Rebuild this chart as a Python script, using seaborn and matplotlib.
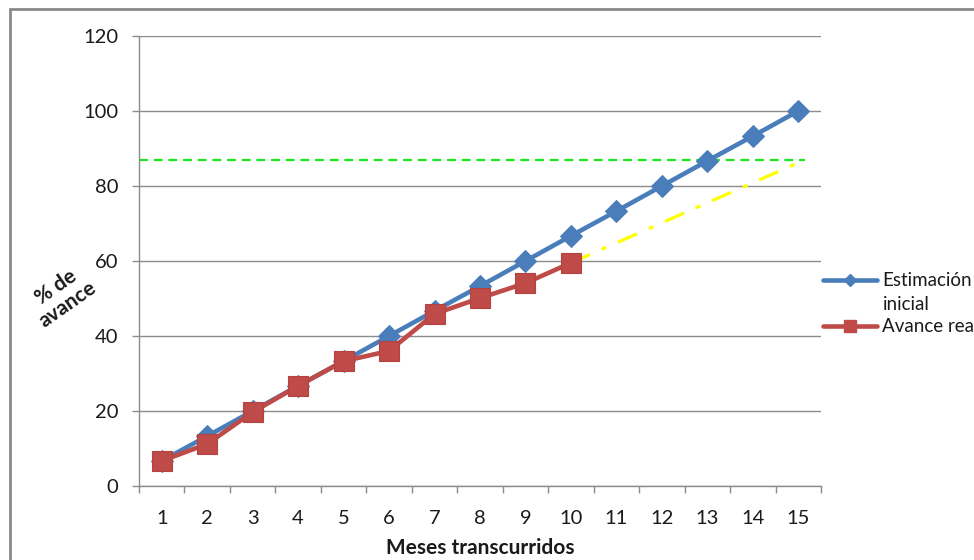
import matplotlib
matplotlib.use("Agg")
import matplotlib.pyplot as plt
from matplotlib.lines import Line2D
from matplotlib.ticker import FixedLocator, NullFormatter
import seaborn as sns
import pandas as pd

# Monthly progress data (% complete)
meses = list(range(1, 16))
estimacion_inicial = [6.7, 13.3, 20.0, 26.7, 33.3, 40.0, 46.7, 53.3, 60.0, 66.7,
                      73.3, 80.0, 86.7, 93.3, 100.0]
meses_real = list(range(1, 11))
avance_real = [6.7, 11.2, 19.7, 26.7, 33.3, 36.0, 45.9, 50.1, 54.1, 59.5]

# Target level and projected trend of the actual progress
nivel_objetivo = 87
proyeccion_x = [10, 15.15]
proyeccion_y = [59.5, 87]

y_ticks = [0, 20, 40, 60, 80, 100, 120]

sns.set_style("white")
plt.rcParams["font.family"] = ["Lato", "DejaVu Sans"]

BLUE = "#4A7EBB"
RED = "#BE4B48"
GRID = "#8C8C8C"
TEXT = "#1A1A1A"

fig = plt.figure(figsize=(9.74, 5.6), dpi=100)
ax = fig.add_axes([139 / 974, 1 - 486 / 560, (821 - 139) / 974, (486 - 36) / 560])

df_est = pd.DataFrame({"mes": meses, "avance": estimacion_inicial})
df_real = pd.DataFrame({"mes": meses_real, "avance": avance_real})

# target and projection lines
ax.plot([0.5, 15.15], [nivel_objetivo, nivel_objetivo], color="#1EE61E",
        lw=1.6, dashes=(4, 2.6), zorder=2)
ax.plot(proyeccion_x, proyeccion_y, color="#FFFF00", lw=2.3,
        dashes=(6.5, 4, 1.6, 4), zorder=2)

sns.lineplot(data=df_est, x="mes", y="avance", ax=ax, color=BLUE, lw=3.3,
             marker="D", markersize=11, markeredgecolor=BLUE,
             markerfacecolor=BLUE, zorder=3)
sns.lineplot(data=df_real, x="mes", y="avance", ax=ax, color=RED, lw=3.3,
             marker="s", markersize=15, markeredgecolor="#B5423F",
             markerfacecolor=RED, markeredgewidth=0.8, zorder=4)

ax.set_xlim(0.5, 15.5)
ax.set_ylim(0, 120)

# category boundaries carry the tick marks, labels sit at category centres
ax.xaxis.set_major_locator(FixedLocator([i + 0.5 for i in range(0, 16)]))
ax.xaxis.set_major_formatter(NullFormatter())
ax.set_xticks(meses, minor=True)
ax.set_xticklabels([str(m) for m in meses], minor=True)
ax.tick_params(axis="x", which="major", direction="out", length=5,
               color=GRID, width=1, bottom=True)
ax.tick_params(axis="x", which="minor", length=0, pad=17.5, labelsize=14.5,
               labelcolor=TEXT)

ax.set_yticks(y_ticks)
ax.set_yticklabels([str(v) for v in y_ticks])
ax.tick_params(axis="y", direction="out", length=5, color=GRID, width=1,
               pad=10, labelsize=14.5, labelcolor=TEXT, left=True)

ax.yaxis.grid(True, color=GRID, lw=1)
ax.xaxis.grid(False)
ax.set_axisbelow(True)
for side in ["top", "right"]:
    ax.spines[side].set_visible(False)
for side in ["left", "bottom"]:
    ax.spines[side].set_color(GRID)
    ax.spines[side].set_linewidth(1)

ax.set_xlabel("Meses transcurridos", fontsize=15, fontweight="bold",
              labelpad=8, color=TEXT)
ax.set_ylabel("")
fig.text(62 / 974, 1 - 296 / 560, "% de\navance", rotation=35,
         ha="center", va="center", fontsize=15, fontweight="bold",
         color=TEXT, linespacing=1.1)

# legend
handles = [
    Line2D([], [], color=BLUE, lw=3.3, marker="D", markersize=6,
           markerfacecolor=BLUE, markeredgecolor=BLUE),
    Line2D([], [], linestyle="none"),
    Line2D([], [], color=RED, lw=3.3, marker="s", markersize=8,
           markerfacecolor=RED, markeredgecolor=RED),
]
fig.legend(handles, ["Estimación", "inicial", "Avance real"],
           loc="upper left", bbox_to_anchor=(815 / 974, 1 - 265 / 560),
           frameon=False, fontsize=13.5, handlelength=2.9,
           handletextpad=0.3, labelspacing=0.32, borderaxespad=0,
           labelcolor=TEXT)

# chart frame
fig.add_artist(Line2D([10 / 974, 1.0], [1 - 9 / 560, 1 - 9 / 560],
                      transform=fig.transFigure, color="#8A8A8A", lw=2))
fig.add_artist(Line2D([10 / 974, 10 / 974], [0, 1 - 9 / 560],
                      transform=fig.transFigure, color="#8A8A8A", lw=2))

fig.savefig("out.png", dpi=100)
